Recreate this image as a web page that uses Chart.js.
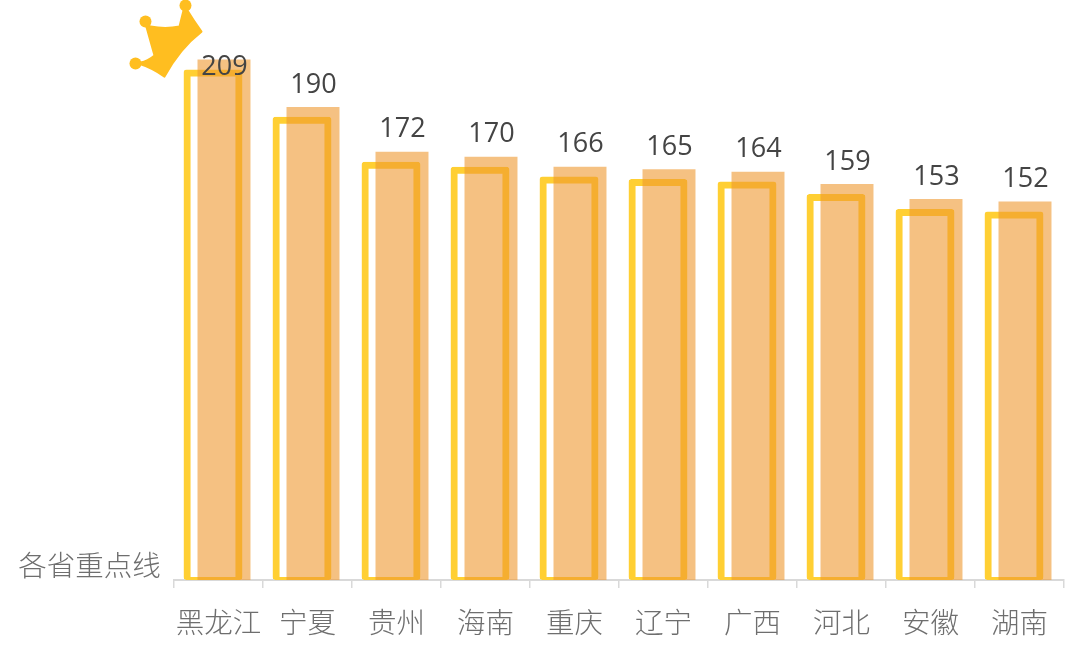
<!DOCTYPE html>
<html><head><meta charset="utf-8">
<style>html,body{margin:0;padding:0;background:#fff}canvas{display:block}</style>
<script src="https://cdn.jsdelivr.net/npm/chart.js@4"></script>
</head><body><canvas id="c" width="1080" height="656"></canvas>
<script>
const categories = ['黑龙江','宁夏','贵州','海南','重庆','辽宁','广西','河北','安徽','湖南'];
const scoreValues = [209,190,172,170,166,165,164,159,153,152];
const outlineValues = [205,186,168,166,162,161,160,155,149,148];
const axisCaption = '各省重点线';

const overlay = {
  id:'overlay',
  // the outline series sits left in each group but is painted under the translucent bars
  beforeDatasetsDraw(chart){ chart.getDatasetMeta(0).controller.draw(); },
  beforeDatasetDraw(chart,args){ if(args.index===0) return false; },
  afterDatasetsDraw(chart){
    const {ctx} = chart;
    const meta = chart.getDatasetMeta(1);
    ctx.save();
    ctx.font = '27px "Open Sans"';
    ctx.fillStyle = '#444444';
    ctx.textAlign = 'center';
    ctx.textBaseline = 'middle';
    meta.data.forEach((bar,i)=>{
      ctx.fillText(String(scoreValues[i]), bar.x+0.5, i===0 ? bar.y+7.5 : bar.y-22);
    });
    ctx.font = '300 28.5px "Noto Sans CJK SC"';
    ctx.fillStyle = '#6e6e6e';
    ctx.fillText(axisCaption, 89.5, 565);
    // crown above the first bar
    const ox = meta.data[0].x, oy = meta.data[0].y;
    const X = v => ox + v - 224.5, Y = v => oy + v - 59;
    ctx.fillStyle = '#FFBE20';
    ctx.strokeStyle = '#FFBE20';
    ctx.lineWidth = 2;
    ctx.lineJoin = 'round';
    ctx.beginPath();
    ctx.moveTo(X(146),Y(23));
    ctx.lineTo(X(151),Y(26));
    ctx.quadraticCurveTo(X(166),Y(29),X(180),Y(26));
    ctx.lineTo(X(184),Y(10));
    ctx.lineTo(X(188),Y(10));
    ctx.quadraticCurveTo(X(194),Y(20),X(202),Y(31));
    ctx.quadraticCurveTo(X(180),Y(48),X(165),Y(76));
    ctx.quadraticCurveTo(X(152),Y(67),X(139),Y(63));
    ctx.lineTo(X(141),Y(62));
    ctx.quadraticCurveTo(X(148),Y(61),X(155),Y(55));
    ctx.closePath();
    ctx.fill();
    ctx.stroke();
    [[146,21,6],[186,5,6],[136,63,6]].forEach(([a,b,r])=>{
      ctx.beginPath();ctx.arc(X(a),Y(b),r,0,Math.PI*2);ctx.fill();
    });
    ctx.restore();
  }
};

new Chart(document.getElementById('c'),{
  type:'bar',
  data:{labels:categories,datasets:[
    {label:'outline',data:outlineValues,order:1,backgroundColor:'rgba(255,255,255,0)',borderColor:'#FFCF33',
     borderWidth:{top:7,left:7,right:7,bottom:3},borderRadius:3,borderSkipped:false,categoryPercentage:0.247,barPercentage:5.36},
    {label:'score',data:scoreValues,order:2,backgroundColor:'rgba(238,152,46,0.6)',borderWidth:0,
     categoryPercentage:0.247,barPercentage:4.82}
  ]},
  options:{
    responsive:false,animation:false,
    layout:{padding:{top:32.2,left:174,right:16,bottom:0}},
    plugins:{legend:{display:false},tooltip:{enabled:false},title:{display:false}},
    scales:{
      x:{
        grid:{drawOnChartArea:false,color:'#d9d9d9',tickLength:8,lineWidth:1.5},
        border:{color:'#d9d9d9',width:2},
        ticks:{color:'#6e6e6e',font:{family:'"Noto Sans CJK SC"',size:28.5,weight:300},padding:17,maxRotation:0,autoSkip:false},
        afterFit(s){s.height=76;}
      },
      y:{display:false,min:0,max:220}
    }
  },
  plugins:[overlay]
});
</script></body></html>
